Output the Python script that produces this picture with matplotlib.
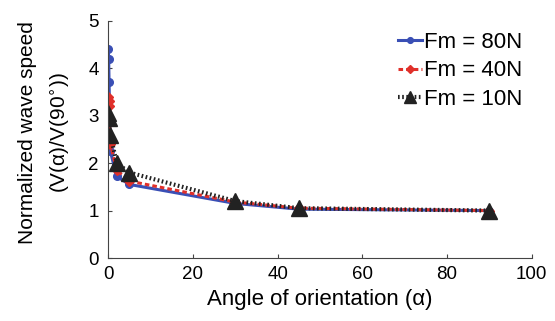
import numpy as np
import matplotlib
matplotlib.use("Agg")
import matplotlib.pyplot as plt

plt.rcParams['font.family'] = ['Liberation Sans', 'DejaVu Sans']

# data
angle_80 = [0, 0.1, 0.2, 0.5, 2, 5, 30, 45, 90]
speed_80 = [4.4, 4.2, 3.7, 2.25, 1.72, 1.55, 1.15, 1.03, 1.0]
angle_40 = [0, 0.1, 0.2, 0.5, 2, 5, 30, 45, 90]
speed_40 = [3.4, 3.3, 3.2, 2.4, 1.85, 1.62, 1.18, 1.05, 1.0]
angle_10 = [0, 0.2, 0.5, 2, 5, 30, 45, 90]
speed_10 = [3.05, 2.95, 2.6, 2.0, 1.8, 1.2, 1.05, 1.0]
labels = ['Fm = 80N', 'Fm = 40N', 'Fm = 10N']

fig = plt.figure(figsize=(5.55, 3.21), dpi=100)
ax = fig.add_axes([0.195, 0.196, 0.763, 0.74])

ax.plot(angle_80, speed_80, color='#3a4fb5', lw=2.2, marker='o', ms=5.5, label=labels[0])
ax.plot(angle_40, speed_40, color='#e0302a', lw=2.2, ls=(0, (1.5, 1)), marker='D', ms=5, label=labels[1])
ax.plot(angle_10, speed_10, color='#222222', lw=3, ls=(0, (0.4, 0.6)), marker='^', ms=12, label=labels[2])

ax.set_xlim(0, 100)
ax.set_ylim(0, 5)
ax.set_xticks([0, 20, 40, 60, 80, 100])
ax.set_yticks([0, 1, 2, 3, 4, 5])
ax.tick_params(direction='in', labelsize=13.5, length=3, color='#444444')
ax.tick_params(axis='x', pad=6)
ax.tick_params(axis='y', pad=7)
ax.spines['top'].set_visible(False)
ax.spines['right'].set_visible(False)
ax.spines['left'].set_color('#444444')
ax.spines['bottom'].set_color('#444444')

ax.set_xlabel('Angle of orientation (α)', fontsize=16, labelpad=4)
ax.set_ylabel('Normalized wave speed\n(V(α)/V(90$^{\\circ}$))', fontsize=15,
              linespacing=1.7)
ax.yaxis.set_label_coords(-0.085, 0.53)

ax.legend(loc='upper right', bbox_to_anchor=(1.01, 1.01), frameon=False, fontsize=16,
          handlelength=1.1, handletextpad=0.1, labelspacing=0.35, markerscale=0.75,
          borderaxespad=0.2)

fig.savefig('out.png', dpi=100)
